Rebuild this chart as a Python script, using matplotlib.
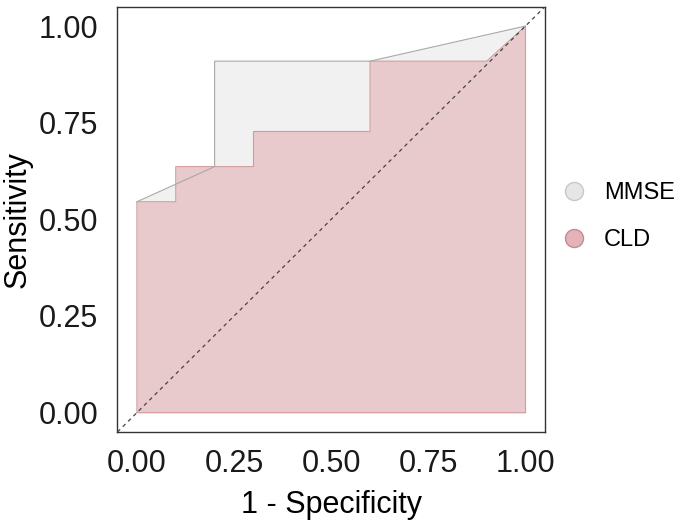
import matplotlib
matplotlib.use("Agg")
import matplotlib.pyplot as plt
from matplotlib.lines import Line2D

plt.rcParams['font.family'] = ['Liberation Sans', 'DejaVu Sans']

# ROC curves (1 - specificity, sensitivity)
mmse_fpr = [0.0, 0.2, 0.2, 0.6, 1.0]
mmse_tpr = [6 / 11, 7 / 11, 10 / 11, 10 / 11, 1.0]

cld_fpr = [0.0, 0.1, 0.1, 0.3, 0.3, 0.6, 0.6, 0.9, 1.0]
cld_tpr = [6 / 11, 6 / 11, 7 / 11, 7 / 11, 8 / 11, 8 / 11, 10 / 11, 10 / 11, 1.0]

ticks = [0.0, 0.25, 0.5, 0.75, 1.0]
tick_labels = ['0.00', '0.25', '0.50', '0.75', '1.00']

fig = plt.figure(figsize=(6.85, 5.27), dpi=100)
ax = fig.add_axes([0.1715, 0.1803, 0.624, 0.807])

mmse_face = '#f1f1f1'
mmse_edge = '#a8a8a8'
cld_face = '#e8c9cc'
cld_edge = '#d19aa0'

ax.fill_between(mmse_fpr, 0, mmse_tpr, color=mmse_face, lw=0, zorder=1)
ax.fill_between(cld_fpr, 0, cld_tpr, color=cld_face, lw=0, zorder=2)

# outlines of the areas
ax.plot([0] + cld_fpr + [1, 0], [0] + cld_tpr + [0, 0], color=cld_edge, lw=0.8, zorder=3)
ax.plot(mmse_fpr, mmse_tpr, color=mmse_edge, lw=0.8, zorder=4)

# chance line
ax.plot([-0.05, 1.05], [-0.05, 1.05], color='#444444', lw=0.9, ls=(0, (3, 3)), zorder=5)

ax.set_xlim(-0.05, 1.05)
ax.set_ylim(-0.05, 1.05)
ax.set_xticks(ticks)
ax.set_xticklabels(tick_labels)
ax.set_yticks(ticks)
ax.set_yticklabels(tick_labels)
ax.tick_params(axis='x', length=0, labelsize=22, pad=12, colors='#1a1a1a')
ax.tick_params(axis='y', length=0, labelsize=22, pad=14, colors='#1a1a1a')
ax.set_xlabel('1 - Specificity', fontsize=22, labelpad=8)
ax.set_ylabel('Sensitivity', fontsize=22, labelpad=4)
for s in ax.spines.values():
    s.set_color('#333333')
    s.set_linewidth(1.0)

handles = [
    Line2D([], [], ls='none', marker='o', markersize=13, markerfacecolor='#e6e6e6',
           markeredgecolor='#c9c9c9', label='MMSE'),
    Line2D([], [], ls='none', marker='o', markersize=13, markerfacecolor='#e2b3b8',
           markeredgecolor='#c48a91', label='CLD'),
]
fig.legend(handles=handles, loc='center left', bbox_to_anchor=(0.790, 0.589),
           bbox_transform=fig.transFigure, frameon=False, fontsize=17,
           handlelength=1.0, handletextpad=0.75, labelspacing=1.05, borderpad=0.4)

plt.savefig('out.png')
